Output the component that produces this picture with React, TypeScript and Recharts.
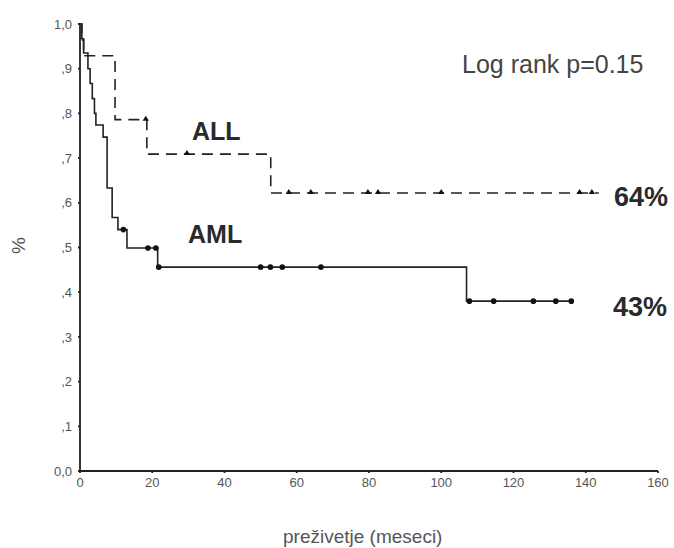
import React from 'react';
import {
  ComposedChart,
  Line,
  Scatter,
  XAxis,
  YAxis,
} from 'recharts';

// Kaplan-Meier steps
const allTimes = [0, 0.5, 1, 9.7, 18.5, 52.8, 143.6];
const allSurv = [1, 0.964, 0.929, 0.786, 0.709, 0.622, 0.622];
const allCensorTimes = [18.2, 29.6, 57.8, 63.9, 79.7, 82.5, 100, 138.3, 141.7];
const allCensorSurv = [0.786, 0.709, 0.622, 0.622, 0.622, 0.622, 0.622, 0.622, 0.622];

const amlTimes = [0, 0.5, 1, 2.2, 2.8, 3.4, 4.0, 4.4, 6.4, 7.5, 8.9, 10.5, 13, 21.5, 107, 136];
const amlSurv = [1, 0.967, 0.935, 0.9, 0.867, 0.833, 0.8, 0.774, 0.747, 0.633, 0.567, 0.54, 0.499, 0.456, 0.38, 0.38];
const amlCensorTimes = [12, 18.8, 21, 21.8, 50, 52.7, 56, 66.7, 107.8, 114.5, 125.5, 131.7, 136];
const amlCensorSurv = [0.54, 0.499, 0.499, 0.456, 0.456, 0.456, 0.456, 0.456, 0.38, 0.38, 0.38, 0.38, 0.38];

const xTicks = [0, 20, 40, 60, 80, 100, 120, 140, 160];
const yTicks = [0, 0.1, 0.2, 0.3, 0.4, 0.5, 0.6, 0.7, 0.8, 0.9, 1];
const yTickLabels = ['0,0', ',1', ',2', ',3', ',4', ',5', ',6', ',7', ',8', ',9', '1,0'];

const zip = (ts: number[], ss: number[]) => ts.map((t, i) => ({ t, s: ss[i] }));

const allLine = zip(allTimes, allSurv);
const amlLine = zip(amlTimes, amlSurv);
const allCensor = zip(allCensorTimes, allCensorSurv);
const amlCensor = zip(amlCensorTimes, amlCensorSurv);

const font = 'Arial, "Liberation Sans", sans-serif';
const tickStyle = { fontSize: 13, fill: '#555', fontFamily: font };

const Triangle = (props: any) => {
  const { cx, cy } = props;
  return <path d={`M${cx - 3.2},${cy + 1} L${cx + 3.2},${cy + 1} L${cx},${cy - 4} Z`} fill="#111" />;
};

const Dot = (props: any) => {
  const { cx, cy } = props;
  return <circle cx={cx} cy={cy} r={2.8} fill="#111" />;
};

const labelBase: React.CSSProperties = {
  position: 'absolute',
  fontFamily: font,
  color: '#2a2a2a',
  whiteSpace: 'nowrap',
  lineHeight: 1,
};

export default function App() {
  return (
    <div style={{ position: 'absolute', left: 0, top: 0, width: 674, height: 548, background: '#fff' }}>
      <ComposedChart
        width={674}
        height={548}
        margin={{ top: 24, right: 16, left: 0, bottom: 0 }}
      >
        <XAxis
          type="number"
          dataKey="t"
          domain={[0, 160]}
          ticks={xTicks}
          allowDataOverflow
          stroke="#222"
          strokeWidth={1.8}
          tickSize={2}
          tickMargin={5}
          tick={tickStyle}
          height={77}
        />
        <YAxis
          type="number"
          dataKey="s"
          domain={[0, 1]}
          ticks={yTicks}
          tickFormatter={(v: number) => yTickLabels[Math.round(v * 10)]}
          stroke="#222"
          strokeWidth={1.8}
          tickSize={2}
          tickMargin={6}
          tick={tickStyle}
          width={80}
        />
        <Line
          data={allLine}
          dataKey="s"
          type="stepAfter"
          stroke="#222"
          strokeWidth={1.6}
          strokeDasharray="11 7"
          dot={false}
          activeDot={false}
          isAnimationActive={false}
        />
        <Line
          data={amlLine}
          dataKey="s"
          type="stepAfter"
          stroke="#222"
          strokeWidth={1.6}
          dot={false}
          activeDot={false}
          isAnimationActive={false}
        />
        <Scatter data={allCensor} dataKey="s" shape={Triangle} isAnimationActive={false} />
        <Scatter data={amlCensor} dataKey="s" shape={Dot} isAnimationActive={false} />
      </ComposedChart>

      <div style={{ ...labelBase, left: 462, top: 52, fontSize: 25, color: '#444' }}>Log rank p=0.15</div>
      <div style={{ ...labelBase, left: 192, top: 119, fontSize: 25, fontWeight: 'bold' }}>ALL</div>
      <div style={{ ...labelBase, left: 188, top: 222, fontSize: 25, fontWeight: 'bold' }}>AML</div>
      <div style={{ ...labelBase, left: 614, top: 184, fontSize: 27, fontWeight: 'bold' }}>64%</div>
      <div style={{ ...labelBase, left: 613, top: 294, fontSize: 27, fontWeight: 'bold' }}>43%</div>
      <div
        style={{
          ...labelBase,
          left: 10,
          top: 236,
          fontSize: 19,
          color: '#555',
          transform: 'rotate(-90deg)',
        }}
      >
        %
      </div>
      <div style={{ ...labelBase, left: 283, top: 527, fontSize: 19, color: '#555' }}>
        preživetje (meseci)
      </div>
    </div>
  );
}
